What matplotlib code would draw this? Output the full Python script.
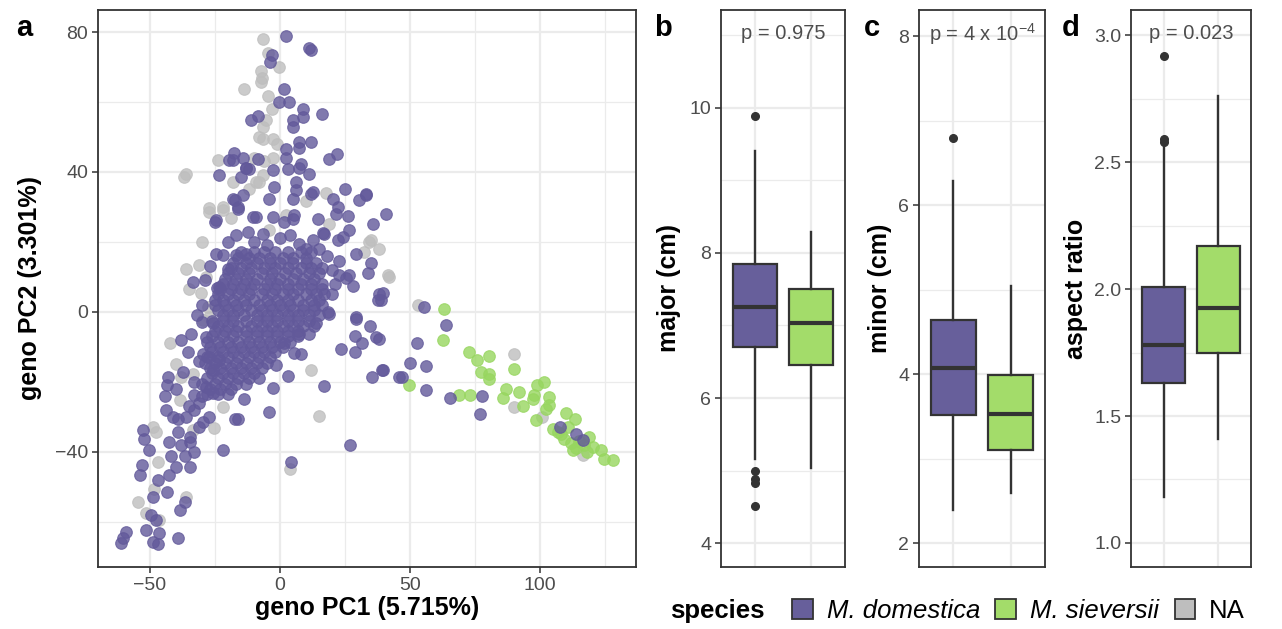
import numpy as np
import matplotlib
matplotlib.use("Agg")
import matplotlib.pyplot as plt
from matplotlib.patches import Patch
from matplotlib.ticker import MultipleLocator

# fonts: Arial-like everywhere, mathtext for the 10^-4 superscript
plt.rcParams["font.family"] = ["Liberation Sans", "DejaVu Sans"]
plt.rcParams["mathtext.fontset"] = "custom"
plt.rcParams["mathtext.rm"] = "Liberation Sans"
plt.rcParams["mathtext.it"] = "Liberation Sans:italic"
plt.rcParams["mathtext.bf"] = "Liberation Sans:bold"

# ---------------- data ----------------
# panel a: genotype PCA (PC1, PC2)
dom_points = [
    # upper arm
    (2.3, 79.0), (11.3, 75.5), (11.8, 75.0), (-3.0, 73.5), (-4.0, 71.5),
    (1.4, 63.8), (-0.2, 60.0), (3.6, 60.0), (8.7, 58.0), (16.2, 56.7),
    (4.9, 54.8), (4.9, 52.9), (8.7, 55.8), (-11.1, 54.8), (-8.5, 56.0),
    (11.9, 48.6), (7.4, 48.6), (2.3, 46.5), (7.4, 47.0), (2.3, 44.1),
    (19.0, 43.8), (21.8, 45.0), (-17.5, 45.4), (-19.5, 43.3), (-14.4, 44.1),
    (-8.3, 43.6), (-18.2, 43.5), (-12.9, 41.1), (-11.8, 40.8), (-2.7, 40.5),
    (3.0, 40.8), (7.4, 41.1), (8.0, 42.4), (11.3, 39.5), (-23.3, 39.2),
    (-14.8, 38.7), (-13.0, 41.0), (6.2, 37.1), (12.6, 34.3), (4.9, 32.4),
    (25.2, 35.1), (33.1, 33.3), (30.6, 31.9), (33.2, 33.8), (20.3, 32.4),
    (-4.1, 32.4), (-2.1, 35.7), (6.2, 34.8), (11.9, 33.8), (-18.2, 32.4),
    (-16.2, 30.0), (-14.2, 33.3), (-17.3, 31.9), (-16.2, 29.5), (40.8, 28.1),
    (35.7, 25.2), (22.2, 30.0), (21.6, 28.1), (26.1, 27.4), (26.7, 23.5),
    (14.5, 26.5), (16.4, 22.6), (17.1, 22.4), (12.6, 20.5), (22.2, 20.5),
    (24.1, 21.5), (-2.8, 27.2), (1.7, 25.8), (5.5, 27.6), (4.9, 26.7),
    (-6.6, 22.4), (-9.2, 27.2), (-10.5, 27.1), (-24.6, 26.2), (-24.8, 25.7),
    (-16.8, 22.0), (-12.3, 22.9), (-24.6, 16.6), (-22.0, 16.4), (-16.8, 16.2),
    (-12.9, 16.7), (7.5, 19.5), (29.3, 16.5), (22.9, 14.5), (25.4, 9.6),
    (35.0, 13.9), (33.7, 11.0), (28.0, 7.4), (26.7, 10.5), (22.9, 10.5),
    (38.2, 5.2), (37.6, 3.4), (39.5, 5.3), (55.6, 1.5), (-33.5, 8.5),
    (-23.3, 7.2), (-24.2, 6.7), (-20.0, 12.4), (18.4, 0.0), (29.3, -1.5),
    (-20, 20), (-10, 20), (-5, 19), (0, 21), (4, 22), (10, 18), (15, 18),
    (18, 16), (-27, 13), (-29, 9), (-30, 2), (-32, -1), (20, 5), (21, 8), (20, 12),
    # dense core
    (-15, 17), (-10, 17), (-6, 17), (-2, 17), (3, 17), (8, 17), (12, 17),
    (-16, 15.5), (-12, 15.5), (-8, 15.5), (-4, 15.5), (1, 15.5), (5, 15.5), (10, 15.5),
    (-18, 14), (-13, 14), (-9, 14), (-4, 14), (0, 14), (5, 14), (10, 14), (14, 14),
    (-19, 12.5), (-15, 12.5), (-11, 12.5), (-6, 12.5), (-2, 12.5), (3, 12.5), (8, 12.5), (12, 12.5), (16, 12.5),
    (-20, 11), (-16, 11), (-12, 11), (-7, 11), (-3, 11), (2, 11), (6, 11), (11, 11), (15, 11),
    (-21, 9.5), (-17, 9.5), (-13, 9.5), (-9, 9.5), (-4, 9.5), (0, 9.5), (5, 9.5), (9, 9.5), (13, 9.5),
    (-22, 8), (-18, 8), (-14, 8), (-10, 8), (-5, 8), (-1, 8), (3, 8), (8, 8), (12, 8), (16, 8),
    (-23, 6.5), (-19, 6.5), (-15, 6.5), (-11, 6.5), (-6, 6.5), (-2, 6.5), (3, 6.5), (7, 6.5), (12, 6.5), (16, 6.5),
    (-24, 5), (-20, 5), (-16, 5), (-12, 5), (-7, 5), (-3, 5), (1, 5), (5, 5), (10, 5), (14, 5), (17, 5),
    (-25, 3.5), (-22, 3.5), (-18, 3.5), (-14, 3.5), (-10, 3.5), (-5, 3.5), (-1, 3.5), (3, 3.5), (7, 3.5), (12, 3.5), (15, 3.5),
    (-25, 2), (-21, 2), (-17, 2), (-13, 2), (-8, 2), (-4, 2), (0, 2), (4, 2), (9, 2), (13, 2), (16, 2),
    (-24, 0.5), (-20, 0.5), (-16, 0.5), (-11, 0.5), (-7, 0.5), (-3, 0.5), (1, 0.5), (5, 0.5), (9, 0.5), (13, 0.5),
    (-22, -1), (-18, -1), (-14, -1), (-9, -1), (-5, -1), (-1, -1), (3, -1), (7, -1), (11, -1), (15, -1),
    (-26, -2.5), (-22, -2.5), (-18, -2.5), (-13, -2.5), (-9, -2.5), (-5, -2.5), (-1, -2.5), (3, -2.5), (7, -2.5), (11, -2.5),
    (-24, -4), (-20, -4), (-16, -4), (-11, -4), (-7, -4), (-3, -4), (1, -4), (5, -4), (9, -4), (13, -4),
    (-25, -5.5), (-21, -5.5), (-17, -5.5), (-13, -5.5), (-9, -5.5), (-5, -5.5), (-1, -5.5), (3, -5.5), (7, -5.5),
    (-26, -7), (-22, -7), (-18, -7), (-13, -7), (-9, -7), (-5, -7), (-1, -7), (3, -7), (7, -7),
    (-28, -8.5), (-24, -8.5), (-20, -8.5), (-16, -8.5), (-12, -8.5), (-8, -8.5), (-4, -8.5), (0, -8.5), (4, -8.5),
    (-27, -10), (-23, -10), (-19, -10), (-15, -10), (-11, -10), (-7, -10), (-3, -10), (1, -10),
    (-26, -11.5), (-22, -11.5), (-18, -11.5), (-14, -11.5), (-10, -11.5), (-6, -11.5), (-2, -11.5),
    (-28, -13), (-24, -13), (-20, -13), (-16, -13), (-12, -13), (-8, -13), (-4, -13),
    (-29, -14.5), (-25, -14.5), (-21, -14.5), (-17, -14.5), (-13, -14.5), (-9, -14.5), (-5, -14.5),
    (-27, -16), (-23, -16), (-19, -16), (-15, -16), (-11, -16), (-7, -16),
    (-26, -17.5), (-22, -17.5), (-18, -17.5), (-14, -17.5), (-10, -17.5),
    (-28, -19), (-24, -19), (-20, -19), (-16, -19), (-12, -19),
    (-30, -20.5), (-25, -20.5), (-21, -20.5), (-17, -20.5), (-13, -20.5),
    (-27, -22), (-23, -22), (-19, -22),
    (-28, -23.5), (-24, -23.5), (-20, -23.5),
    # lower-left arm
    (-38.0, -8.1), (-34.2, -6.2), (-35.5, -11.4), (-37.4, -17.1), (-43.2, -18.6),
    (-43.6, -21.0), (-44.1, -24.1), (-32.9, -23.8), (-41.3, -30.0), (-39.3, -30.5),
    (-52.8, -33.8), (-52.2, -36.2), (-50.5, -39.5), (-42.6, -37.1), (-39.3, -34.3),
    (-41.8, -41.1), (-53.0, -43.8), (-53.7, -46.6), (-39.9, -44.3), (-42.6, -46.6),
    (-46.9, -47.9), (-48.7, -52.8), (-43.6, -51.4), (-38.3, -56.7), (-36.4, -54.3),
    (-34.5, -44.3), (-36.4, -41.1), (-34.5, -37.1), (-34.5, -35.7), (-49.6, -58.1),
    (-47.7, -59.5), (-51.5, -62.4), (-46.4, -63.1), (-47.1, -66.2), (-49.0, -65.7),
    (-39.3, -64.6), (-59.2, -62.9), (-61.2, -66.0), (-60.2, -64.5), (-21.9, -39.5),
    (-17.1, -30.5), (-32.9, -28.1), (-29.7, -31.4), (-27.2, -30.0), (-28.4, -21.4),
    (-25.8, -23.3), (-25.8, -16.7), (-27.2, -12.9), (-23.3, -13.8), (-28.4, -7.1),
    (-25.8, -3.3), (-29.7, -11.9), (-31.0, -26.0), (-30.0, -3.0),
    (-31, -14), (-33, -20), (-30, -24), (-35, -27), (-36, -30), (-31, -33),
    (-33, -40), (-38, -38), (-44, -28), (-40, -22),
    # right of the core
    (29.3, -1.9), (34.8, -4.1), (37.0, -7.3), (29.0, -6.9), (31.6, -9.0),
    (23.5, -10.7), (28.9, -11.4), (39.3, -16.5), (35.3, -18.7), (45.9, -18.6),
    (17.1, -21.2), (3.2, -18.3), (-2.8, -21.6), (-4.1, -28.7), (-16.3, -30.7),
    (-13.7, -24.8), (26.9, -37.9), (4.2, -42.8), (1.7, -8.8), (8.1, -11.9),
    (5.5, -11.7), (-1.5, -15.2), (-7.9, -19.0), (11.3, -6.2), (19.0, -0.5),
    (13.9, -3.3), (7.4, -6.2), (38.9, 3.4), (63.9, -3.8), (52.9, -8.9),
    (50.0, -14.6), (56.2, -15.5), (39.5, -16.5), (46.9, -18.6), (56.2, -22.2),
    (65.4, -24.7), (77.6, -24.1), (76.9, -29.2), (38.2, -7.6),
    (107.8, -32.9), (113.9, -35.0), (116.5, -36.5),
]

siev_points = [
    (63.2, 0.7), (62.8, -7.9), (49.5, -21.0), (72.6, -11.4), (76.0, -13.8),
    (80.3, -12.6), (77.4, -17.1), (80.6, -17.6), (80.6, -19.3), (69.0, -23.8),
    (73.2, -23.6), (86.9, -21.9), (85.9, -24.5), (89.9, -16.2), (91.8, -23.0),
    (93.4, -26.9), (97.9, -23.8), (99.1, -20.9), (101.7, -20.0), (97.2, -25.0),
    (98.5, -30.9), (103.6, -24.3), (103.6, -26.7), (102.3, -27.6), (110.0, -29.0),
    (113.6, -30.5), (106.8, -34.3), (109.4, -36.2), (112.0, -37.6), (113.9, -39.0),
    (119.0, -35.7), (117.1, -38.1), (120.3, -38.6), (123.5, -39.5), (124.8, -41.9),
    (128.0, -42.2), (112.6, -39.5), (108.0, -35.0), (115.0, -37.0), (118.0, -40.0),
    (111.0, -33.0), (105.0, -33.5),
]

na_points = [
    (-6.4, 77.9), (-4.7, 74.1), (-7.3, 69.0), (-0.2, 70.0), (-7.3, 65.7),
    (-6.8, 67.0), (-13.7, 63.8), (-4.7, 61.6), (-6.6, 52.9), (-5.4, 54.8),
    (-6.6, 49.5), (-2.7, 49.5), (-24.0, 43.5), (-36.0, 39.5), (-36.8, 38.6),
    (-2.7, 44.1), (-6.0, 43.0), (34.3, 20.0), (38.1, 18.1), (41.4, 10.5),
    (-27.1, 29.6), (-21.9, 30.1), (-18.8, 26.9), (-36.1, 12.3), (-31.0, 13.3),
    (-28.4, 10.0), (-30.4, 5.3), (-34.8, 6.6), (10.0, 31.6), (17.7, 33.9),
    (19.0, 25.2), (-4.1, 23.3), (-7.9, 50.0), (-9.2, 37.1), (-6.6, 39.0),
    (-27.2, 28.6), (-22.0, 29.0), (-27.8, 1.4), (-18.0, 37.0), (35.0, 20.5),
    (32.4, 17.1), (42.1, 10.0), (53.0, 1.9), (-8.0, 37.0), (2.3, 27.6),
    (-42.4, -9.0), (-39.9, -14.8), (-37.9, -18.6), (-33.5, -17.6), (-38.6, -25.2),
    (-48.7, -32.9), (-47.7, -34.3), (-46.9, -42.9), (-21.9, -27.1), (-25.2, -33.3),
    (-54.7, -54.3), (-51.5, -57.6), (-46.4, -59.5), (-36.1, -52.9), (-48.4, -50.5),
    (-29.7, -2.4), (-27.2, -1.4), (-33.5, -33.8), (12.0, -16.7), (14.9, -29.8),
    (3.9, -45.0), (89.9, -12.1), (90.1, -27.1), (101.0, -29.9), (116.5, -40.9),
    (-30.0, 20.0), (-3.0, 58.0), (-1.0, 48.0), (-10.0, 44.0), (-12.0, 35.0),
]

# panels b-d: boxplot summaries (domestica, sieversii)
box_ylabels = ["major (cm)", "minor (cm)", "aspect ratio"]
p_labels = ["p = 0.975", r"p = 4 x 10$^{\mathregular{-4}}$", "p = 0.023"]
box_stats = [
    [dict(med=7.26, q1=6.70, q3=7.85, whislo=5.16, whishi=9.41, fliers=[9.89, 4.99, 4.89, 4.83, 4.51]),
     dict(med=7.04, q1=6.45, q3=7.51, whislo=5.03, whishi=8.29, fliers=[])],
    [dict(med=4.08, q1=3.52, q3=4.64, whislo=2.39, whishi=6.29, fliers=[6.80]),
     dict(med=3.53, q1=3.11, q3=3.99, whislo=2.59, whishi=5.04, fliers=[])],
    [dict(med=1.78, q1=1.63, q3=2.01, whislo=1.18, whishi=2.59, fliers=[2.92, 2.59, 2.58]),
     dict(med=1.925, q1=1.75, q3=2.17, whislo=1.41, whishi=2.76, fliers=[])],
]
box_ylims = [(3.67, 11.35), (1.72, 8.31), (0.905, 3.10)]
box_major = [2, 2, 0.5]

species = ["M. domestica", "M. sieversii", "NA"]

# colours
PURPLE = "#675f9b"
GREEN = "#a3dc6a"
GREY = "#bebebe"
PT_PURPLE = "#62599a"
PT_GREEN = "#97d65f"
DARK = "#333333"
GRID = "#ebebeb"
TICKLAB = "#4d4d4d"


def style_axes(ax):
    for s in ax.spines.values():
        s.set_color(DARK)
        s.set_linewidth(1.3)
    ax.set_axisbelow(True)
    ax.grid(which="major", color=GRID, linewidth=1.6)
    ax.grid(which="minor", color=GRID, linewidth=0.9)
    ax.tick_params(which="major", length=4, width=1.1, color=DARK,
                   labelcolor=TICKLAB, labelsize=14, pad=3)
    ax.tick_params(which="minor", length=0)


fig = plt.figure(figsize=(12.82, 6.29), dpi=100)
W, H = 1282.0, 629.0

# ---------------- panel a ----------------
axa = fig.add_axes([98 / W, 62 / H, 538 / W, 557 / H])
for pts, col in [(na_points, GREY), (siev_points, PT_GREEN), (dom_points, PT_PURPLE)]:
    arr = np.array(pts, dtype=float)
    axa.scatter(arr[:, 0], arr[:, 1], s=70, color=col, alpha=0.8,
                edgecolors=col, linewidths=0.8)
axa.set_xlim(-70, 137)
axa.set_ylim(-72.9, 86.3)
axa.xaxis.set_major_locator(MultipleLocator(50))
axa.xaxis.set_minor_locator(MultipleLocator(25))
axa.yaxis.set_major_locator(MultipleLocator(40))
axa.yaxis.set_minor_locator(MultipleLocator(20))
style_axes(axa)
axa.set_xlabel("geno PC1 (5.715%)", fontsize=18, fontweight="bold")
axa.set_ylabel("geno PC2 (3.301%)", fontsize=18, fontweight="bold")
axa.xaxis.set_label_coords(0.5, -0.074)
axa.xaxis.label.set_va("center")
axa.yaxis.set_label_coords(-0.126, 0.5)
axa.yaxis.label.set_va("center")

# ---------------- panels b-d ----------------
box_lefts = [721, 919, 1131]
box_widths = [124, 126, 120]
for i in range(3):
    ax = fig.add_axes([box_lefts[i] / W, 62 / H, box_widths[i] / W, 557 / H])
    res = ax.bxp(box_stats[i], positions=[1, 2], widths=0.78, patch_artist=True,
                 showcaps=False,
                 boxprops=dict(edgecolor=DARK, linewidth=1.6),
                 medianprops=dict(color=DARK, linewidth=3.0),
                 whiskerprops=dict(color=DARK, linewidth=1.7),
                 flierprops=dict(marker="o", markerfacecolor=DARK,
                                 markeredgecolor=DARK, markersize=5.5))
    for patch, col in zip(res["boxes"], [PURPLE, GREEN]):
        patch.set_facecolor(col)
    ax.set_xlim(0.4, 2.6)
    ax.set_ylim(*box_ylims[i])
    ax.yaxis.set_major_locator(MultipleLocator(box_major[i]))
    ax.yaxis.set_minor_locator(MultipleLocator(box_major[i] / 2))
    ax.set_xticks([1, 2])
    ax.set_xticklabels([])
    style_axes(ax)
    ax.tick_params(axis="x", length=0)
    if i == 2:
        ax.yaxis.set_major_formatter(matplotlib.ticker.FormatStrFormatter("%.1f"))
    ax.set_ylabel(box_ylabels[i], fontsize=18, fontweight="bold")
    lab_x = [669, 880, 1076][i]
    ax.yaxis.set_label_coords((lab_x - box_lefts[i]) / box_widths[i], 0.5)
    ax.yaxis.label.set_va("center")
    ax.text(0.5, 0.957, p_labels[i], transform=ax.transAxes, ha="center",
            va="center", fontsize=14.5, color=TICKLAB)

# panel letters
for letter, x in zip("abcd", [16, 654, 864, 1062]):
    fig.text(x / W, 1 - 36 / H, letter, fontsize=21, fontweight="bold",
             ha="left", va="baseline")

# legend
fig.text(670 / W, 1 - 611 / H, "species", fontsize=18.5, fontweight="bold",
         ha="left", va="center")
handles = [Patch(facecolor=c, edgecolor=DARK, linewidth=1.3)
           for c in [PURPLE, GREEN, GREY]]
leg = fig.legend(handles, species, loc="center left",
                 bbox_to_anchor=(792 / W, 1 - 611 / H), ncol=3, frameon=False,
                 borderpad=0, borderaxespad=0, fontsize=18.5,
                 handlelength=0.8, handleheight=0.8, handletextpad=0.55,
                 columnspacing=0.6)
for t in leg.get_texts()[:2]:
    t.set_style("italic")

fig.savefig("out.png", dpi=100)
